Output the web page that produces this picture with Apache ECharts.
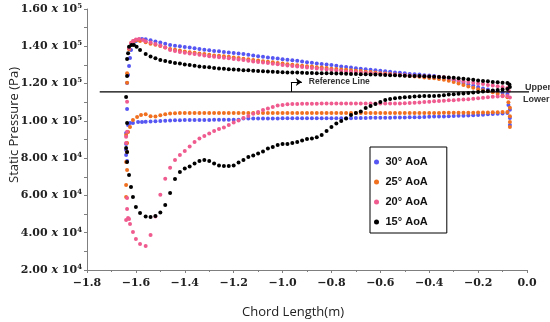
<!DOCTYPE html>
<html><head><meta charset="utf-8">
<script src="https://cdn.jsdelivr.net/npm/echarts@6.0.0/dist/echarts.min.js"></script>
<style>html,body{margin:0;padding:0;background:#fff}#c{width:550px;height:322px}</style>
</head><body><div id="c"></div>
<script>
// Chord positions (m) shared by the body of every surface
const xBody = [-1.56,-1.54,-1.52,-1.50,-1.48,-1.46,-1.44,-1.42,-1.40,-1.38,
-1.36,-1.34,-1.32,-1.30,-1.28,-1.26,-1.24,-1.22,-1.20,-1.18,
-1.16,-1.14,-1.12,-1.10,-1.08,-1.06,-1.04,-1.02,-1.00,-0.98,
-0.96,-0.94,-0.92,-0.90,-0.88,-0.86,-0.84,-0.82,-0.80,-0.78,
-0.76,-0.74,-0.72,-0.70,-0.68,-0.66,-0.64,-0.62,-0.60,-0.58,
-0.56,-0.54,-0.52,-0.50,-0.48,-0.46,-0.44,-0.42,-0.40,-0.38,
-0.36,-0.34,-0.32,-0.30,-0.28,-0.26,-0.24,-0.22,-0.20,-0.18,
-0.16,-0.14,-0.12,-0.10,-0.08];

// Static pressure in kPa
const blueUpper = [143.8,143.3,142.6,142.0,141.3,140.7,140.3,140.0,139.6,139.3,
138.9,138.5,138.2,137.9,137.5,137.3,137.0,136.7,136.4,136.1,
135.8,135.4,135.1,134.7,134.4,134.0,133.7,133.4,133.1,132.8,
132.5,132.2,131.8,131.5,131.2,130.8,130.5,130.2,129.9,129.5,
129.2,128.9,128.6,128.2,128.0,127.7,127.4,127.1,126.9,126.6,
126.3,126.0,125.8,125.5,125.2,125.0,124.8,124.5,124.3,124.0,
123.6,123.1,122.6,121.8,121.0,120.3,119.5,118.8,118.1,117.4,
116.8,116.2,115.7,115.1,114.4];
const blueLower = [99.5,99.7,99.8,99.9,100.0,100.2,100.3,100.3,100.4,100.4,
100.5,100.5,100.5,100.5,100.6,100.6,100.6,100.6,100.6,100.6,
101.2,101.3,101.3,101.3,101.3,101.3,101.3,101.3,101.4,101.4,
101.4,101.4,101.4,101.4,101.4,101.4,101.4,101.4,101.4,101.4,
101.4,101.4,101.4,101.5,101.5,101.5,101.6,101.6,101.7,101.7,
101.7,101.8,101.8,101.8,101.9,102.0,102.0,102.1,102.2,102.3,
102.3,102.4,102.5,102.6,102.7,102.8,102.9,103.0,103.2,103.3,
103.5,103.7,103.8,104.0,104.2];
const blueEdges = [[-1.636,120.3],[-1.632,124.6],[-1.628,129.4],[-1.624,133.7],[-1.620,138.0],[-1.612,141.2],[-1.600,142.8],[-1.587,143.6],[-1.575,143.9],
[-1.636,106.4],[-1.640,93.5],[-1.640,87.6],[-1.640,84.4],[-1.640,81.7],[-1.636,78.5],[-1.632,97.8],[-1.624,98.8],[-1.612,98.8],[-1.591,99.4],[-1.575,99.4],
[-0.076,108.5],[-0.070,106.0],[-0.070,101.5],[-0.070,97.8]];

const orangeUpper = [142.2,141.4,140.8,140.1,139.3,138.5,138.1,137.7,137.2,136.8,
136.5,136.1,135.8,135.5,135.1,134.9,134.6,134.4,134.0,133.7,
133.3,133.0,132.7,132.4,132.0,131.7,131.4,131.1,130.7,130.4,
130.1,129.8,129.6,129.3,129.1,128.8,128.6,128.3,128.0,127.8,
127.6,127.4,127.2,126.9,126.7,126.4,126.2,125.9,125.6,125.4,
125.1,124.8,124.6,124.3,124.1,123.8,123.6,123.3,123.0,122.8,
122.5,122.1,121.5,120.8,120.0,119.2,118.4,117.7,117.0,116.4,
115.9,115.3,114.6,113.6,112.7];
const orangeLower = [103.6,102.5,102.3,103.0,103.5,103.9,104.1,104.2,104.2,104.2,
104.2,104.2,104.2,104.2,104.2,104.2,104.2,104.2,104.2,104.2,
104.2,104.2,104.2,104.2,104.2,104.2,104.2,104.2,104.2,104.2,
104.2,104.2,104.2,104.2,104.2,104.2,104.2,104.2,104.2,104.2,
104.2,104.2,104.2,104.2,104.2,104.2,104.2,104.2,104.2,104.2,
104.2,104.2,104.2,104.2,104.2,104.2,104.2,104.2,104.2,104.2,
104.2,104.3,104.3,104.3,104.3,104.4,104.4,104.4,104.5,104.5,
104.5,104.6,104.6,104.7,104.7];
const orangeEdges = [[-1.636,120.5],[-1.636,125.5],[-1.628,138.4],[-1.619,141.9],[-1.608,142.9],[-1.596,143.4],[-1.583,142.9],
[-1.640,92.4],[-1.636,88.1],[-1.636,83.3],[-1.640,77.9],[-1.636,73.6],[-1.640,65.6],[-1.640,59.2],[-1.632,94.0],[-1.624,96.7],[-1.612,100.5],[-1.595,102.1],[-1.579,103.1],
[-0.076,110.0],[-0.070,107.0],[-0.070,102.5],[-0.070,99.4],[-0.070,96.7]];

const pinkUpper = [142.7,142.0,141.2,140.4,139.3,138.0,137.5,137.0,136.5,136.1,
135.8,135.4,135.1,134.7,134.4,134.1,133.8,133.6,133.2,132.9,
132.6,132.3,131.9,131.6,131.3,131.0,130.6,130.3,130.0,129.7,
129.4,129.2,128.9,128.6,128.4,128.1,127.8,127.5,127.3,127.0,
126.8,126.5,126.4,126.2,126.0,125.8,125.6,125.4,125.2,125.0,
124.9,124.7,124.6,124.4,124.3,124.2,124.0,123.9,123.8,123.6,
123.5,123.4,123.0,122.3,121.8,121.2,120.8,120.5,120.1,119.8,
119.3,118.9,118.6,118.1,117.6];
const pinkLower = [32.9,38.8,48.7,60.4,68.9,74.9,79.0,81.7,83.8,86.2,
88.7,90.5,91.9,93.2,94.6,95.6,96.5,97.8,99.1,100.2,
101.5,102.6,103.8,104.8,105.8,106.6,107.4,108.2,108.5,108.9,
109.0,109.1,109.2,109.2,109.2,109.2,109.3,109.3,109.3,109.3,
109.3,109.3,109.3,109.3,109.3,109.3,109.3,109.3,109.3,109.3,
109.3,109.3,109.3,109.4,109.6,109.7,109.9,110.1,110.3,110.5,
110.7,110.8,111.0,111.1,111.3,111.5,111.6,111.8,112.1,112.4,
112.6,112.9,113.0,113.2,113.3];
const pinkEdges = [[-1.628,138.9],[-1.620,141.6],[-1.612,142.8],[-1.600,143.7],[-1.587,143.9],[-1.571,143.4],
[-1.636,110.3],[-1.636,94.2],[-1.640,91.5],[-1.640,88.1],[-1.636,58.6],[-1.636,52.7],[-1.640,46.8],[-1.632,47.9],[-1.628,47.4],[-1.624,44.7],[-1.612,40.4],[-1.600,36.6],[-1.583,34.0],
[-0.074,116.0],[-0.070,112.5]];

const blackUpper = [135.8,134.5,133.6,132.6,132.1,131.6,131.1,130.7,130.2,129.9,
129.5,129.2,128.9,128.7,128.4,128.1,127.9,127.7,127.6,127.4,
127.2,127.1,126.9,126.8,126.6,126.5,126.4,126.2,126.1,126.0,
125.9,125.9,125.8,125.7,125.7,125.6,125.6,125.5,125.5,125.4,
125.4,125.3,125.2,125.1,125.0,125.0,124.9,124.8,124.7,124.6,
124.5,124.4,124.3,124.2,124.1,124.1,124.0,123.9,123.8,123.6,
123.5,123.4,123.3,123.1,122.8,122.6,122.3,122.0,121.7,121.4,
121.2,120.9,120.7,120.5,120.3];
const blackLower = [48.7,48.4,49.0,50.8,54.9,61.3,68.8,72.6,74.4,75.5,
77.1,78.5,79.0,78.5,77.1,76.1,75.8,75.8,76.1,77.7,
79.0,80.6,81.4,82.5,83.6,85.2,86.0,87.0,87.6,87.6,
88.1,88.7,89.5,90.3,90.6,91.2,92.4,94.6,96.7,98.6,
99.9,101.3,103.1,104.2,105.0,106.9,108.0,109.0,110.1,111.2,
111.7,112.1,112.4,112.6,112.8,113.1,113.2,113.3,113.3,113.3,
113.5,113.8,114.1,114.3,114.5,114.7,115.0,115.2,115.5,115.7,
116.0,116.3,116.6,116.8,117.1];
const blackEdges = [[-1.636,124.1],[-1.636,133.2],[-1.632,136.2],[-1.628,139.8],[-1.618,140.7],[-1.608,140.7],[-1.597,139.8],[-1.583,138.0],
[-1.640,112.8],[-1.636,98.8],[-1.640,85.4],[-1.636,83.3],[-1.636,77.9],[-1.628,71.0],[-1.620,64.5],[-1.612,59.2],[-1.600,53.8],[-1.583,50.6],
[-0.072,119.5],[-0.070,118.2]];

const seriesNames = ['30° AoA','25° AoA','20° AoA','15° AoA'];
const seriesColors = ['#5656F2','#F07020','#EF5B8E','#000000'];

// Reference line annotation (chord m, Pa)
const refValue = 115500;
const refLineX = [-1.748, 0.041];
const refArrowX = [-0.966, -0.921];
const refArrowTop = 120800;

function build(upper, lower, edges) {
  const pts = [];
  xBody.forEach((x, i) => pts.push([x, upper[i] * 1000]));
  xBody.forEach((x, i) => pts.push([x, lower[i] * 1000]));
  edges.forEach(p => pts.push([p[0], p[1] * 1000]));
  return pts;
}
const sets = [
  build(blueUpper, blueLower, blueEdges),
  build(orangeUpper, orangeLower, orangeEdges),
  build(pinkUpper, pinkLower, pinkEdges),
  build(blackUpper, blackLower, blackEdges)
];

const chart = echarts.init(document.getElementById('c'), null, {renderer: 'canvas'});
const axisGray = '#7f7f7f';
const serif = 'DejaVu Serif';

const series = sets.map((d, k) => ({
  name: seriesNames[k], type: 'scatter', data: d, symbol: 'circle', symbolSize: 4,
  itemStyle: {color: seriesColors[k], opacity: 1}, emphasis: {disabled: true}, z: 2 + k
}));
series.push({
  name: 'ref', type: 'line', clip: false, silent: true, showSymbol: false, symbol: 'none',
  data: [[refLineX[0], refValue], [refLineX[1], refValue]],
  lineStyle: {color: '#000', width: 1.2}, z: 10,
  markLine: {
    silent: true, animation: false,
    lineStyle: {color: '#000', width: 1, type: 'solid'},
    data: [
      [{coord: [refArrowX[0], refValue], symbol: 'none'}, {coord: [refArrowX[0], refArrowTop], symbol: 'none', label: {show: false}}],
      [{coord: [refArrowX[0], refArrowTop], symbol: 'none'}, {coord: [refArrowX[1], refArrowTop], symbol: 'arrow', symbolSize: 6,
        label: {show: true, position: 'end', distance: 7, formatter: 'Reference Line', fontFamily: 'Liberation Sans', fontWeight: 'bold', fontSize: 8.5, color: '#333'}}]
    ],
    label: {show: false}
  }
});

chart.setOption({
  animation: false,
  backgroundColor: '#fff',
  grid: {left: 87, right: 23, top: 9, bottom: 52, containLabel: false},
  legend: {
    data: seriesNames, orient: 'vertical', left: 370, top: 147,
    padding: [8, 19, 4, 4], itemGap: 6, itemWidth: 8, itemHeight: 5, icon: 'circle',
    borderColor: '#000', borderWidth: 1, backgroundColor: '#fff',
    textStyle: {fontFamily: 'Liberation Sans', fontWeight: 'bold', fontSize: 11, color: '#111', lineHeight: 14},
    selectedMode: false, z: 20
  },
  xAxis: {
    type: 'value', min: -1.8, max: 0, interval: 0.2,
    axisLine: {show: true, onZero: false, lineStyle: {color: axisGray}},
    axisTick: {show: true, length: 3, lineStyle: {color: axisGray}},
    minorTick: {show: true, splitNumber: 2, length: 2, lineStyle: {color: axisGray}},
    splitLine: {show: false},
    axisLabel: {
      margin: 8, color: '#222', fontFamily: serif, fontWeight: 'bold', fontSize: 11,
      formatter: v => Math.abs(v) < 1e-9 ? '0.0' : (v < 0 ? '\u2212' : '') + Math.abs(v).toFixed(1)
    }
  },
  yAxis: {
    type: 'value', min: 20000, max: 160000, interval: 20000,
    axisLine: {show: true, onZero: false, lineStyle: {color: axisGray}},
    axisTick: {show: true, length: 3, lineStyle: {color: axisGray}},
    minorTick: {show: true, splitNumber: 2, length: 3, lineStyle: {color: axisGray}},
    splitLine: {show: false},
    axisLabel: {
      margin: 5, color: '#222',
      formatter: v => {
        const e = Math.floor(Math.log10(v) + 1e-9);
        const m = (v / Math.pow(10, e)).toFixed(2);
        return '{m|' + m + ' }{x|x}{m| 10}{s|' + e + '}';
      },
      rich: {
        m: {fontFamily: serif, fontWeight: 'bold', fontSize: 11, color: '#222'},
        x: {fontFamily: serif, fontWeight: 'bold', fontStyle: 'italic', fontSize: 11, color: '#222'},
        s: {fontFamily: serif, fontWeight: 'bold', fontSize: 7, color: '#222', verticalAlign: 'top', padding: [0, 0, 6, 0]}
      }
    }
  },
  graphic: [
    {type: 'text', x: 14, y: 125, rotation: Math.PI / 2,
      style: {text: 'Static Pressure (Pa)', font: '13px "Open Sans"', fill: '#222', textAlign: 'center', textVerticalAlign: 'middle'}},
    {type: 'text', x: 293, y: 312,
      style: {text: 'Chord Length(m)', font: '13px "Open Sans"', fill: '#222', textAlign: 'center', textVerticalAlign: 'middle'}},
    {type: 'text', x: 525, y: 88,
      style: {text: 'Upper', font: 'bold 9px "Liberation Sans"', fill: '#333', textAlign: 'left', textVerticalAlign: 'middle'}},
    {type: 'text', x: 523, y: 100,
      style: {text: 'Lower', font: 'bold 9px "Liberation Sans"', fill: '#333', textAlign: 'left', textVerticalAlign: 'middle'}}
  ],
  series: series
});
</script>
</body></html>
